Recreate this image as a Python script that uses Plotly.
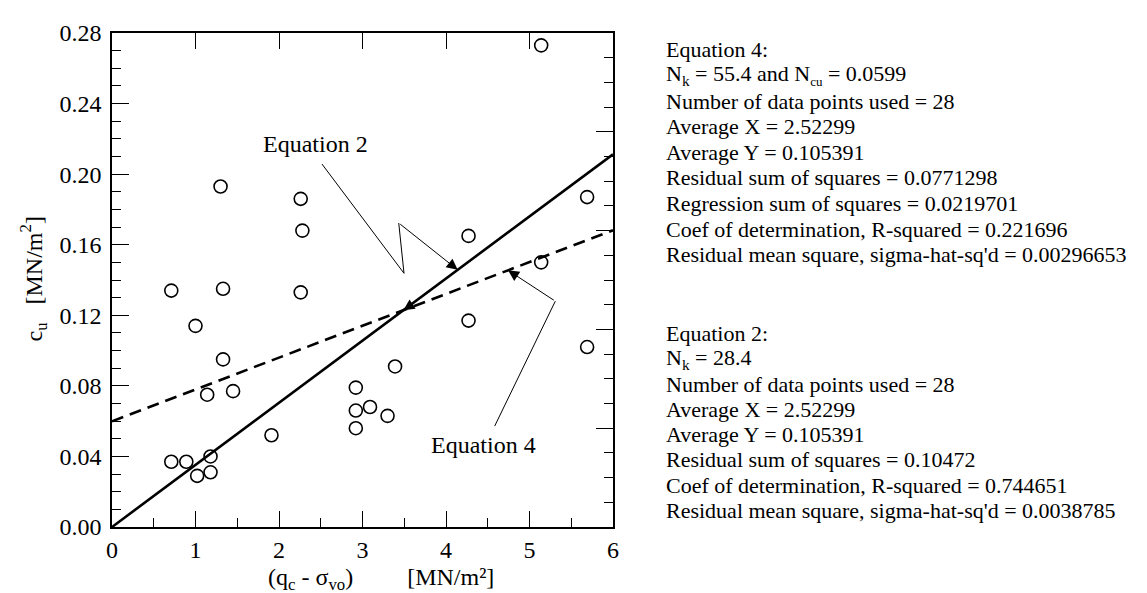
import plotly.graph_objects as go

# ---- data ----
x_vals = [0.71, 0.71, 0.89, 1.00, 1.02, 1.14, 1.18, 1.18, 1.30, 1.33, 1.33, 1.45,
          1.91, 2.26, 2.28, 2.26, 2.92, 2.92, 2.92, 3.09, 3.30, 3.39, 4.27, 4.27,
          5.14, 5.14, 5.69, 5.69]
y_vals = [0.134, 0.037, 0.037, 0.114, 0.029, 0.075, 0.040, 0.031, 0.193, 0.135, 0.095, 0.077,
          0.052, 0.186, 0.168, 0.133, 0.079, 0.066, 0.056, 0.068, 0.063, 0.091, 0.165, 0.117,
          0.273, 0.150, 0.187, 0.102]

Nk_eq2 = 28.4
Nk_eq4 = 55.4
Ncu_eq4 = 0.0599
line_x = [0.0, 6.0]

eq4_lines = [
    "Equation 4:",
    "N<sub>k</sub> = 55.4 and N<sub><span style='font-size:13px'>cu</span></sub> = 0.0599",
    "Number of data points used = 28",
    "Average X = 2.52299",
    "Average Y = 0.105391",
    "Residual sum of squares = 0.0771298",
    "Regression sum of squares = 0.0219701",
    "Coef of determination, R-squared = 0.221696",
    "Residual mean square, sigma-hat-sq'd = 0.00296653",
]
eq2_lines = [
    "Equation 2:",
    "N<sub>k</sub> = 28.4",
    "Number of data points used = 28",
    "Average X = 2.52299",
    "Average Y = 0.105391",
    "Residual sum of squares = 0.10472",
    "Coef of determination, R-squared = 0.744651",
    "Residual mean square, sigma-hat-sq'd = 0.0038785",
]

FONT = "Liberation Serif"
W, H = 1147, 593
L, R, T, B = 104, 542, 18, 74
PW = W - L - R
PH = H - T - B

def py(p):  # pixel row -> paper y
    return (H - B - p) / PH

def px(p):  # pixel column -> paper x
    return (p - L) / PW

fig = go.Figure()

fig.add_trace(go.Scatter(
    x=x_vals, y=y_vals, mode="markers",
    marker=dict(symbol="circle-open", size=13, color="black", line=dict(width=1.6)),
    hoverinfo="skip"))

fig.add_trace(go.Scatter(
    x=line_x, y=[x / Nk_eq2 for x in line_x], mode="lines",
    line=dict(color="black", width=2.6), hoverinfo="skip"))

fig.add_trace(go.Scatter(
    x=line_x, y=[Ncu_eq4 + x / Nk_eq4 for x in line_x], mode="lines",
    line=dict(color="black", width=2.6, dash="12px,7px"), hoverinfo="skip"))

# invisible trace to activate the mirror axes (top/right ticks)
fig.add_trace(go.Scatter(x=[None], y=[None], xaxis="x2", yaxis="y2",
                         mode="markers", hoverinfo="skip"))

axis_common = dict(showgrid=False, zeroline=False, ticks="inside",
                   tickcolor="black", tickwidth=1.4)

fig.update_layout(
    width=W, height=H,
    margin=dict(l=L, r=R, t=T, b=B),
    paper_bgcolor="white", plot_bgcolor="white",
    showlegend=False,
    font=dict(family=FONT, color="black", size=24),
    xaxis=dict(range=[0, 6], dtick=1, tick0=0, ticklen=16,
               showline=True, linecolor="black", linewidth=1.5, mirror=True,
               tickfont=dict(size=24, family=FONT),
               minor=dict(dtick=0.5, ticklen=9, ticks="inside", tickcolor="black",
                          tickwidth=1.4, showgrid=False),
               **axis_common),
    yaxis=dict(range=[0, 0.28], dtick=0.04, tick0=0, ticklen=17, tickformat=".2f",
               showline=True, linecolor="black", linewidth=1.5, mirror=True,
               tickfont=dict(size=24, family=FONT), ticklabelstandoff=4,
               minor=dict(dtick=0.01, ticklen=9, ticks="inside", tickcolor="black",
                          tickwidth=1.4, showgrid=False),
               **axis_common),
    xaxis2=dict(overlaying="x", side="top", range=[0, 6],
                tickvals=[1, 2, 3, 4, 5], ticklen=16, showticklabels=False,
                showline=False, **axis_common),
    yaxis2=dict(overlaying="y", side="right", range=[0, 5], dtick=1, tick0=0,
                ticklen=17, showticklabels=False, showline=False,
                minor=dict(dtick=0.25, ticklen=9, ticks="inside", tickcolor="black",
                           tickwidth=1.4, showgrid=False),
                **axis_common),
)

# axis titles
fig.add_annotation(xref="paper", yref="paper", x=px(373), y=py(572),
                   text="(q<sub>c</sub> - σ<sub>vo</sub>)" + "\u00a0" * 8 + " [MN/m²]",
                   showarrow=False, font=dict(size=24, family=FONT),
                   xanchor="center", yanchor="middle")
fig.add_annotation(xref="paper", yref="paper", x=px(25), y=py(268),
                   text="c<sub>u</sub>\u00a0\u00a0 [MN/m<sup>2</sup>]", textangle=-90,
                   showarrow=False, font=dict(size=24, family=FONT),
                   xanchor="center", yanchor="middle")

# statistics text blocks
x_text = px(656)
for i, t in enumerate(eq4_lines):
    fig.add_annotation(xref="paper", yref="paper", x=x_text, y=py(35 + 26 * i),
                       text=t, showarrow=False, xanchor="left", yanchor="middle",
                       font=dict(size=22, family=FONT))
for i, t in enumerate(eq2_lines):
    fig.add_annotation(xref="paper", yref="paper", x=x_text, y=py(323 + 25.6 * i),
                       text=t, showarrow=False, xanchor="left", yanchor="middle",
                       font=dict(size=22, family=FONT))

# in-plot labels with leader lines
fig.add_annotation(x=2.437, y=0.2169, text="Equation 2", showarrow=False,
                   font=dict(size=24, family=FONT))
fig.add_annotation(x=4.455, y=0.0464, text="Equation 4", showarrow=False,
                   font=dict(size=24, family=FONT))

fig.add_shape(type="path", xref="x", yref="y",
              path="M 2.515 0.2057 L 3.497 0.1438 L 3.434 0.1723",
              line=dict(color="black", width=1))
fig.add_annotation(x=4.14, y=4.14 / Nk_eq2, ax=3.434, ay=0.1723,
                   axref="x", ayref="y", showarrow=True, text="",
                   arrowhead=2, arrowsize=2.2, arrowwidth=1, arrowcolor="black")

fig.add_shape(type="path", xref="x", yref="y",
              path="M 4.583 0.0572 L 5.309 0.128",
              line=dict(color="black", width=1))
fig.add_annotation(x=4.743, y=Ncu_eq4 + 4.743 / Nk_eq4, ax=5.309, ay=0.128,
                   axref="x", ayref="y", showarrow=True, text="",
                   arrowhead=2, arrowsize=2.2, arrowwidth=1, arrowcolor="black")

fig.add_annotation(x=3.49, y=3.49 / Nk_eq2, ax=9, ay=-6,
                   showarrow=True, text="",
                   arrowhead=2, arrowsize=2.2, arrowwidth=1, arrowcolor="black")

fig.write_html("out.html")
